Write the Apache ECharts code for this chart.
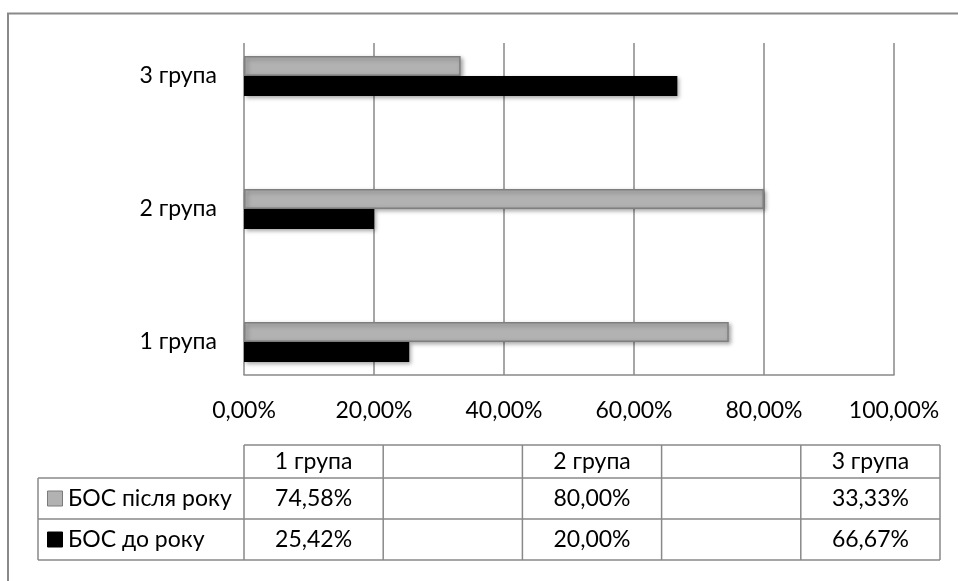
<!DOCTYPE html>
<html>
<head>
<meta charset="utf-8">
<style>
  html, body { margin: 0; padding: 0; background: #fff; }
  #chart { width: 958px; height: 581px; }
</style>
<script src="https://cdn.jsdelivr.net/npm/echarts@6/dist/echarts.min.js"></script>
</head>
<body>
<div id="chart"></div>
<script>
// Groups (bottom to top on the category axis)
const categories = ['1 група', '2 група', '3 група'];
// Share of patients, %
const afterYear = [74.58, 80.00, 33.33];   // БОС після року
const beforeYear = [25.42, 20.00, 66.67];  // БОС до року
const seriesNames = ['БОС після року', 'БОС до року'];
const xTicks = [0, 20, 40, 60, 80, 100];

const FONT = 'Lato, "Open Sans", sans-serif';
const LINE = '#898989';
const GREY = '#b2b2b2';

const fmtPct = v => v.toFixed(2).replace('.', ',') + '%';

const chart = echarts.init(document.getElementById('chart'), null, { renderer: 'canvas' });

// Data table under the plot
const tableLeft = 244, tableRight = 940, colCount = 5;
const colW = (tableRight - tableLeft) / colCount;
const rowY = [445, 478, 519, 560];
const legendLeft = 38;
const tableCols = ['', '', '', '', ''];
tableCols[0] = categories[0];
tableCols[2] = categories[1];
tableCols[4] = categories[2];
const colIndexOf = [0, 2, 4];

const g = [];
// outer frame
g.push({ type: 'rect', shape: { x: 8, y: 13.5, width: 980, height: 620 },
  style: { fill: 'none', stroke: LINE, lineWidth: 2 }, silent: true });

// horizontal rules
g.push({ type: 'line', shape: { x1: tableLeft, y1: rowY[0], x2: tableRight, y2: rowY[0] }, style: { stroke: LINE, lineWidth: 1.5 } });
for (let r = 1; r < rowY.length; r++) {
  g.push({ type: 'line', shape: { x1: legendLeft, y1: rowY[r], x2: tableRight, y2: rowY[r] }, style: { stroke: LINE, lineWidth: 1.5 } });
}
// vertical rules
g.push({ type: 'line', shape: { x1: legendLeft, y1: rowY[1], x2: legendLeft, y2: rowY[3] }, style: { stroke: LINE, lineWidth: 1.5 } });
for (let c = 0; c <= colCount; c++) {
  const x = tableLeft + c * colW;
  g.push({ type: 'line', shape: { x1: x, y1: rowY[0], x2: x, y2: rowY[3] }, style: { stroke: LINE, lineWidth: 1.5 } });
}
// header texts
tableCols.forEach((t, c) => {
  if (!t) return;
  g.push({ type: 'text', style: { text: t, x: tableLeft + (c + 0.5) * colW, y: (rowY[0] + rowY[1]) / 2,
    align: 'center', verticalAlign: 'middle', font: '23px ' + FONT, fill: '#000' } });
});
// rows: legend key + values
const rows = [
  { name: seriesNames[0], values: afterYear, color: GREY, border: '#7a7a7a' },
  { name: seriesNames[1], values: beforeYear, color: '#000', border: '#000' }
];
rows.forEach((row, r) => {
  const cy = (rowY[r + 1] + rowY[r + 2]) / 2;
  g.push({ type: 'rect', shape: { x: 47.5, y: cy - 7.5, width: 15, height: 15 },
    style: { fill: row.color, stroke: row.border, lineWidth: 1 } });
  g.push({ type: 'text', style: { text: row.name, x: 68, y: cy, align: 'left', verticalAlign: 'middle',
    font: '23px ' + FONT, fill: '#000' } });
  row.values.forEach((v, i) => {
    const c = colIndexOf[i];
    g.push({ type: 'text', style: { text: fmtPct(v), x: tableLeft + (c + 0.5) * colW, y: cy,
      align: 'center', verticalAlign: 'middle', font: '23px ' + FONT, fill: '#000' } });
  });
});

const barShadow = { shadowColor: 'rgba(0,0,0,0.35)', shadowBlur: 4, shadowOffsetX: 2, shadowOffsetY: 2 };

chart.setOption({
  animation: false,
  backgroundColor: '#fff',
  grid: [
    // bars
    { left: 244, width: 650, top: 9.5, height: 399 },
    // frame with the value scale
    { left: 244, width: 650, top: 43, height: 332 }
  ],
  xAxis: [
    { gridIndex: 0, type: 'value', min: 0, max: 100, interval: 20, show: false },
    { gridIndex: 1, type: 'value', min: 0, max: 100, interval: 20,
      axisLine: { show: true, lineStyle: { color: LINE, width: 1.5 } },
      axisTick: { show: false },
      splitLine: { show: true, lineStyle: { color: LINE, width: 1.5 } },
      axisLabel: { formatter: fmtPct, color: '#000', fontFamily: FONT, fontSize: 23, margin: 24 } }
  ],
  yAxis: [
    { gridIndex: 0, type: 'category', data: categories,
      axisLine: { show: false }, axisTick: { show: false }, splitLine: { show: false },
      axisLabel: { color: '#000', fontFamily: FONT, fontSize: 23, margin: 27 } },
    { gridIndex: 1, type: 'category', data: categories,
      axisLine: { show: false }, axisTick: { show: false }, axisLabel: { show: false }, splitLine: { show: false } }
  ],
  series: [
    { name: seriesNames[0], type: 'bar', xAxisIndex: 0, yAxisIndex: 0, data: afterYear,
      barWidth: 20, barGap: '0%', z: 3,
      itemStyle: Object.assign({ color: GREY, borderColor: '#7f7f7f', borderWidth: 1.5 }, barShadow) },
    { name: seriesNames[1], type: 'bar', xAxisIndex: 0, yAxisIndex: 0, data: beforeYear,
      barWidth: 20, barGap: '0%', z: 3,
      itemStyle: Object.assign({ color: '#000' }, barShadow) }
  ],
  graphic: g
});
</script>
</body>
</html>
